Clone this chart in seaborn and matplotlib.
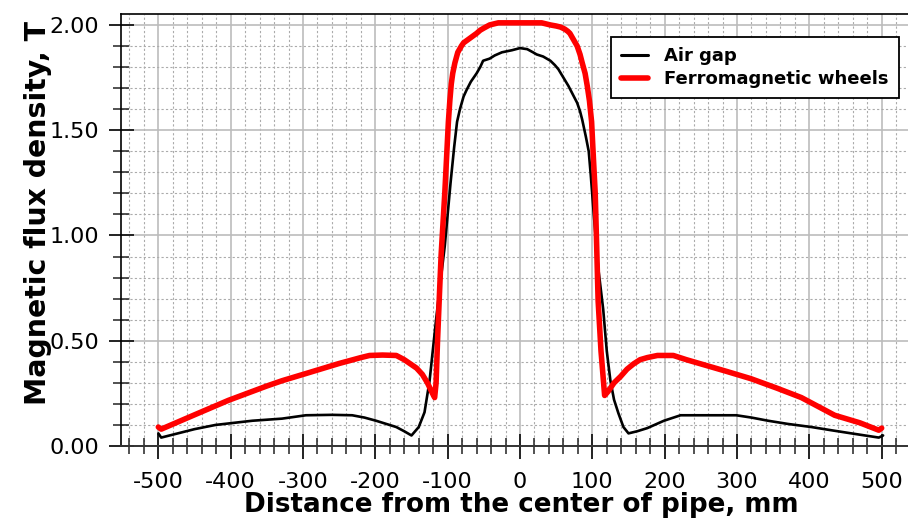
import numpy as np
import pandas as pd
import matplotlib
matplotlib.use("Agg")
import matplotlib.pyplot as plt
import seaborn as sns
from matplotlib.ticker import MultipleLocator, FormatStrFormatter
from matplotlib.lines import Line2D

# ---- data ----
air_x = [-500, -496, -450, -421, -370, -329, -296, -260, -232, -215, -199, -185, -171, -160, -150,
         -140, -132, -125, -116, -111, -104, -96, -91, -87, -83, -78, -74, -68, -60, -55, -51, -42,
         -35, -25, -11, 0, 10, 18, 23, 32, 42, 48, 53, 60, 67, 73, 79, 83, 86, 91, 95, 98, 102,
         108, 115, 120, 125, 130, 136, 143, 150, 162, 176, 199, 222, 250, 299, 320, 343, 370,
         403, 430, 458, 496, 502]
air_y = [0.06, 0.04, 0.08, 0.10, 0.12, 0.13, 0.146, 0.148, 0.146, 0.135, 0.12, 0.105, 0.09, 0.07, 0.05,
         0.09, 0.16, 0.31, 0.60, 0.75, 0.95, 1.25, 1.42, 1.54, 1.60, 1.66, 1.69, 1.73, 1.77, 1.80, 1.83, 1.84,
         1.855, 1.87, 1.88, 1.89, 1.885, 1.87, 1.86, 1.85, 1.83, 1.81, 1.79, 1.75, 1.71, 1.67, 1.63, 1.59, 1.55, 1.47, 1.40, 1.28, 1.10,
         0.85, 0.65, 0.45, 0.31, 0.22, 0.156, 0.09, 0.06, 0.07, 0.085, 0.12, 0.146, 0.146, 0.146, 0.135, 0.12, 0.105,
         0.09, 0.075, 0.06, 0.04, 0.05]

fer_x = [-500, -496, -450, -403, -350, -329, -300, -250, -236, -220, -208, -190, -171, -160,
         -143, -135, -128, -121, -118, -116, -114, -111, -109, -104, -99, -97, -95, -93, -90, -86,
         -81, -78, -72, -66, -60, -55, -50, -42, -30, 0, 30, 42, 50, 56, 62, 66, 69, 74, 79, 83,
         86, 90, 93, 96, 99, 101, 104, 106, 108, 112, 117, 122, 130, 139, 148, 157, 166, 176, 190,
         212, 230, 250, 285, 319, 355, 389, 435, 470, 496, 500]
fer_y = [0.09, 0.08, 0.148, 0.217, 0.285, 0.31, 0.34, 0.392, 0.405, 0.42, 0.43, 0.432, 0.43, 0.41,
         0.37, 0.34, 0.30, 0.25, 0.23, 0.30, 0.50, 0.75, 0.91, 1.20, 1.54, 1.64, 1.72, 1.77, 1.82, 1.87,
         1.90, 1.915, 1.93, 1.945, 1.96, 1.975, 1.985, 2.00, 2.01, 2.01, 2.01, 2.00, 1.995, 1.99, 1.98, 1.97, 1.96, 1.93, 1.90, 1.86,
         1.82, 1.77, 1.71, 1.64, 1.54, 1.40, 1.20, 0.95, 0.69, 0.45, 0.24, 0.26, 0.30, 0.33, 0.365, 0.39, 0.41, 0.42, 0.43,
         0.43, 0.41, 0.39, 0.355, 0.32, 0.275, 0.23, 0.146, 0.11, 0.075, 0.085]

series_names = ["Air gap", "Ferromagnetic wheels"]
series_colors = ["black", "#ff0000"]

x_ticks = [-500, -400, -300, -200, -100, 0, 100, 200, 300, 400, 500]
y_ticks = [0.00, 0.50, 1.00, 1.50, 2.00]

df_air = pd.DataFrame({"x": air_x, "y": air_y, "series": series_names[0]})
df_fer = pd.DataFrame({"x": fer_x, "y": fer_y, "series": series_names[1]})

sns.set_style("white")
plt.rcParams["font.family"] = ["DejaVu Sans"]

fig = plt.figure(figsize=(9.08, 5.22), dpi=100)
W, H = 908, 522
ax = fig.add_axes([121 / W, (H - 446) / H, (W - 121) / W, (446 - 14) / H])

sns.lineplot(data=df_air, x="x", y="y", color=series_colors[0], lw=1.9, sort=False,
             estimator=None, ax=ax, zorder=5)
sns.lineplot(data=df_fer, x="x", y="y", color=series_colors[1], lw=4.0, sort=False,
             estimator=None, ax=ax, zorder=6)

ax.set_xlim(-551.6, 536.4)
ax.set_ylim(0, 2.052)

ax.xaxis.set_minor_locator(MultipleLocator(20))
ax.yaxis.set_minor_locator(MultipleLocator(0.1))
ax.set_xticks(x_ticks)
ax.set_xticklabels([str(v) for v in x_ticks])
ax.set_yticks(y_ticks)
ax.yaxis.set_major_formatter(FormatStrFormatter("%.2f"))

ax.grid(True, which="major", color="#bcbcbc", lw=1.2, ls="-", zorder=0)
ax.grid(True, which="minor", color="#ababab", lw=0.8, ls=(0, (2, 2)), zorder=0)
ax.set_axisbelow(True)

ax.tick_params(axis="both", which="both", bottom=True, left=True, top=False, right=False)
ax.tick_params(axis="both", which="major", direction="inout", length=18, width=1.4,
               color="#222222", labelsize=16, labelcolor="black")
ax.tick_params(axis="both", which="minor", direction="inout", length=11, width=1.1,
               color="#222222")
ax.tick_params(axis="x", which="major", pad=10)
ax.tick_params(axis="y", which="major", pad=7)

for s in ["left", "top"]:
    ax.spines[s].set_color("black")
    ax.spines[s].set_linewidth(1.2)
ax.spines["bottom"].set_color("#333333")
ax.spines["bottom"].set_linewidth(1.4)
ax.spines["right"].set_visible(False)

ax.set_xlabel("Distance from the center of pipe, mm", fontsize=18.8, fontweight="bold",
              color="black")
ax.xaxis.set_label_coords((521 - 121) / (W - 121), -(505 - 446) / (446 - 14))
ax.xaxis.label.set_va("center")
ax.set_ylabel("Magnetic flux density, T", fontsize=20.4, fontweight="bold", color="black")
ax.yaxis.set_label_coords(-(121 - 38) / (W - 121), (446 - 213) / (446 - 14))
ax.yaxis.label.set_va("center")

handles = [Line2D([0], [0], color=series_colors[0], lw=2.2),
           Line2D([0], [0], color=series_colors[1], lw=4.0)]
leg = ax.legend(handles, series_names, loc="upper left",
                bbox_to_anchor=((611 - 121) / (W - 121), 1 - (37 - 14) / (446 - 14)),
                frameon=True, fancybox=False, framealpha=1, edgecolor="black",
                prop={"weight": "bold", "size": 13}, handlelength=1.5,
                handletextpad=0.9, borderpad=0.55, labelspacing=0.3, borderaxespad=0)
for t in leg.get_texts():
    t.set_color("black")
leg.get_frame().set_linewidth(1.3)
leg.set_zorder(10)

fig.savefig("out.png", dpi=100)
